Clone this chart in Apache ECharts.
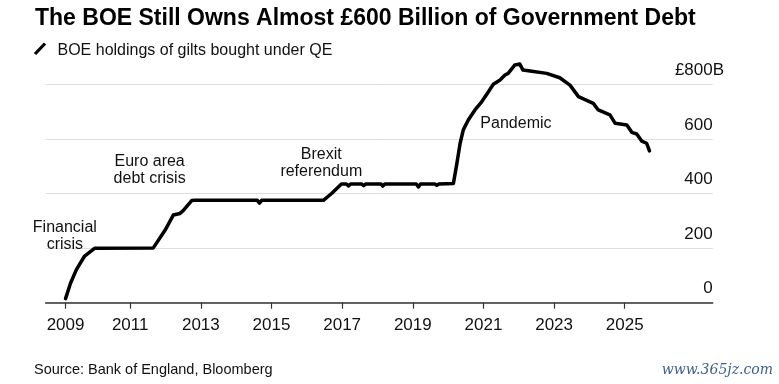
<!DOCTYPE html>
<html>
<head>
<meta charset="utf-8">
<script src="https://cdn.jsdelivr.net/npm/echarts@6/dist/echarts.min.js"></script>
<style>
html,body{margin:0;padding:0;background:#fff;}
#chart{width:779px;height:384px;}
</style>
</head>
<body>
<div id="chart"></div>
<script>
// ---- data (decimal years, £ billions) ----
const dates = [2009.17,2009.31,2009.48,2009.71,2009.99,2011.65,2011.99,2012.22,2012.41,2012.50,2012.74,2012.83,
  2014.60,2014.66,2014.72,2015.65,2015.70,2015.75,2016.00,2016.05,2016.10,2016.47,2016.70,2016.98,
  2017.12,2017.18,2017.24,2017.55,2017.61,2017.67,2018.10,2018.15,2018.21,2019.10,2019.16,2019.22,
  2019.62,2019.68,2019.74,2020.15,2020.24,2020.34,2020.43,2020.57,2020.76,2020.95,2021.09,2021.28,
  2021.47,2021.61,2021.70,2021.89,2022.03,2022.12,2022.32,2022.79,2023.16,2023.45,2023.69,2024.11,
  2024.25,2024.58,2024.73,2025.06,2025.20,2025.34,2025.48,2025.62,2025.70];
const holdings = [15,71,122,171,199,200,266,321,327,337,374,375,
  375,365,375,375,371,375,375,372,375,375,400,435,
  435,428,435,435,429,435,435,427,435,435,424,435,
  435,430,435,437,504,584,633,669,706,736,763,800,
  816,834,840,871,874,852,849,840,824,797,755,730,
  706,688,657,651,624,618,592,584,556];

const xTickValues = [2009.17,2011,2013,2015,2017,2019,2021,2023,2025];
const xTickLabels = ['2009','2011','2013','2015','2017','2019','2021','2023','2025'];
const yTickValues = [0,200,400,600,800];
const yTopPrefix = '£';
const yTopSuffix = 'B';

const annotationLabels = ['Financial\ncrisis','Euro area\ndebt crisis','Brexit\nreferendum','Pandemic'];
const annotationYears  = [2009.15, 2011.55, 2016.41, 2021.92];
const annotationValues = [244, 485, 511, 655];

const titleText = 'The BOE Still Owns Almost £600 Billion of Government Debt';
const subtitleText = 'BOE holdings of gilts bought under QE';
const sourceText = 'Source: Bank of England, Bloomberg';

const FONT = '"Liberation Sans", Arial, Helvetica, sans-serif';
const xMin = 2008.608, xMax = 2027.49;
const yMax = yTickValues[yTickValues.length-1];

const chart = echarts.init(document.getElementById('chart'), null, {renderer:'canvas'});

const seriesData = dates.map((d,i)=>[d, holdings[i]]);

chart.setOption({
  animation: false,
  backgroundColor: '#fff',
  grid: {left: 45.7, right: 66.3, top: 84.3, bottom: 81.3, containLabel: false},
  xAxis: {
    type: 'value', min: xMin, max: xMax,
    splitLine: {show: false},
    axisLine: {show: true, lineStyle: {color: '#333', width: 1.5}},
    axisTick: {show: true, length: 6, customValues: xTickValues, lineStyle: {color: '#333', width: 1.2}},
    axisLabel: {
      customValues: xTickValues, margin: 14,
      color: '#111', fontSize: 17, fontFamily: FONT,
      formatter: function(v){ const i = xTickValues.findIndex(t=>Math.abs(t-v)<1e-6); return i>=0 ? xTickLabels[i] : ''; }
    }
  },
  yAxis: {
    type: 'value', position: 'right', min: 0, max: yMax, interval: 200,
    axisLine: {show: false}, axisTick: {show: false},
    splitLine: {show: true, lineStyle: {color: '#dedede', width: 1}},
    axisLabel: {
      inside: true, margin: 0, align: 'right', verticalAlign: 'middle',
      padding: [0,0,28,0],
      color: '#111', fontSize: 17, fontFamily: FONT,
      formatter: function(v){ return '{n|' + (v === yMax ? yTopPrefix + v : String(v)) + '}'; },
      rich: {
        n: {fontSize: 17, fontFamily: FONT, color: '#111'}
      }
    }
  },
  series: [{
    type: 'line', data: seriesData, showSymbol: false, clip: false,
    lineStyle: {color: '#000', width: 3.5, join: 'round', cap: 'round'},
    itemStyle: {color: '#000'}
  }]
});

const annoGraphics = annotationLabels.map((t,i)=>{
  const p = chart.convertToPixel({gridIndex:0}, [annotationYears[i], annotationValues[i]]);
  return {
    type: 'text', x: p[0], y: p[1], silent: true,
    style: {text: t, fill: '#111', font: '16px ' + FONT, align: 'center', verticalAlign: 'middle', lineHeight: 17.5}
  };
});

// the unit suffix hangs past the right edge of the top tick label
const topPix = chart.convertToPixel({gridIndex:0}, [xMax, yMax]);

chart.setOption({
  graphic: [
    {type:'text', x: 35, y: 18.5, style:{text: titleText, fill:'#000', font:'bold 23px ' + FONT, verticalAlign:'middle'}},
    {type:'line', shape:{x1:35, y1:54, x2:45, y2:43.5}, style:{stroke:'#000', lineWidth:3.2, lineCap:'butt'}},
    {type:'text', x: 57.5, y: 50.5, style:{text: subtitleText, fill:'#111', font:'16px ' + FONT, verticalAlign:'middle'}},
    {type:'text', x: topPix[0], y: topPix[1] - 14, style:{text: yTopSuffix, fill:'#111', font:'17px ' + FONT, align:'left', verticalAlign:'middle'}},
    {type:'text', x: 34, y: 370, style:{text: sourceText, fill:'#111', font:'14.5px ' + FONT, verticalAlign:'middle'}},
    {type:'text', x: 773, y: 370, style:{text: 'www.365jz.com', fill:'#3d5f8f', font:'italic 14px "DejaVu Serif", serif', align:'right', verticalAlign:'middle'}}
  ].concat(annoGraphics)
});
</script>
</body>
</html>
